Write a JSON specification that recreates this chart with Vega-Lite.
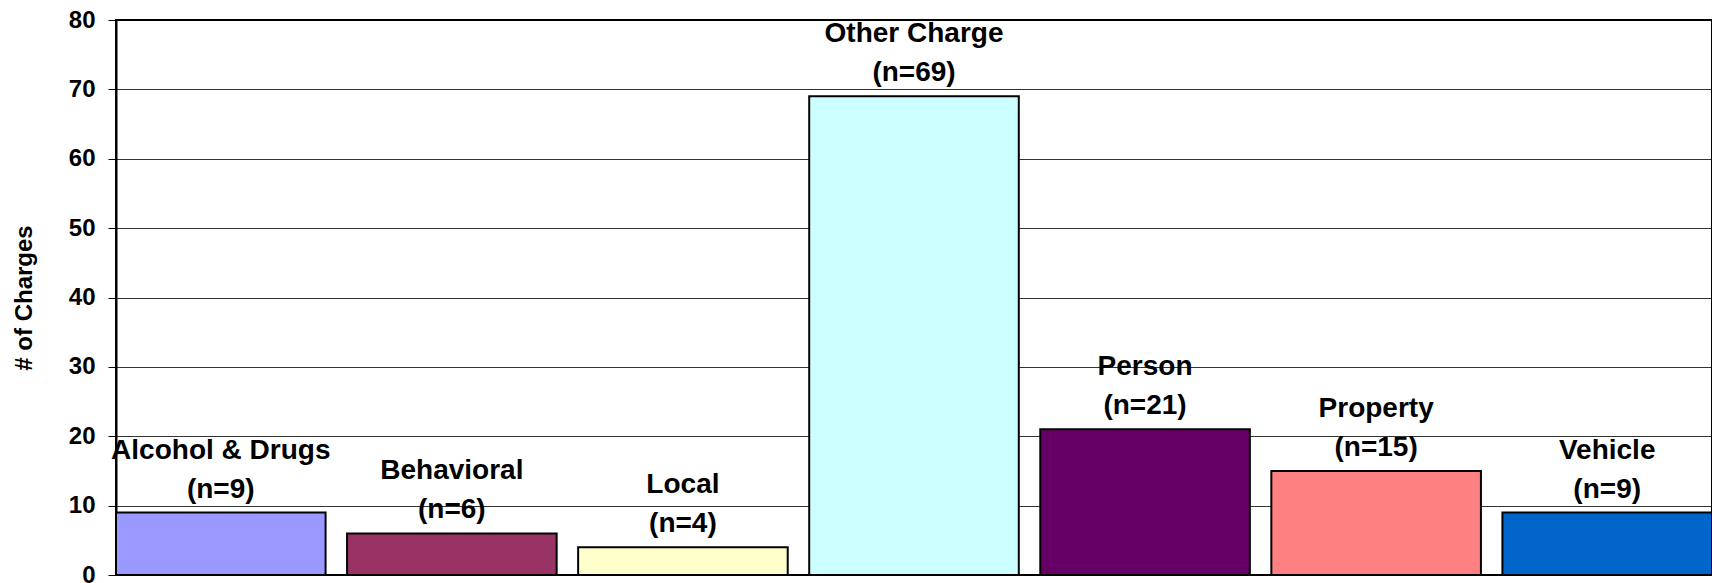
{
  "$schema": "https://vega.github.io/schema/vega-lite/v6.json",
  "autosize": {"type": "none"},
  "padding": {"left": 116, "top": 20, "right": 0, "bottom": 8},
  "width": 1596,
  "height": 555,
  "background": "white",
  "config": {
    "view": {"stroke": "black", "strokeWidth": 2},
    "font": "Liberation Sans"
  },
  "data": {
    "values": [
      {"category": "Alcohol & Drugs", "count": 9},
      {"category": "Behavioral", "count": 6},
      {"category": "Local", "count": 4},
      {"category": "Other Charge", "count": 69},
      {"category": "Person", "count": 21},
      {"category": "Property", "count": 15},
      {"category": "Vehicle", "count": 9}
    ]
  },
  "transform": [
    {"calculate": "'(n=' + datum.count + ')'", "as": "nlabel"}
  ],
  "encoding": {
    "x": {
      "field": "category",
      "type": "nominal",
      "sort": null,
      "scale": {"paddingInner": 0.093, "paddingOuter": 0},
      "axis": null
    },
    "y": {
      "field": "count",
      "type": "quantitative",
      "scale": {"domain": [0, 80], "nice": false},
      "axis": {
        "title": "# of Charges",
        "titleFont": "Liberation Sans",
        "titleFontSize": 24,
        "titleFontWeight": "bold",
        "titleColor": "black",
        "titleX": -92,
        "titleY": 277.5,
        "titleAngle": -90,
        "titleAlign": "center",
        "titleBaseline": "middle",
        "values": [0, 10, 20, 30, 40, 50, 60, 70, 80],
        "labelFont": "Liberation Sans",
        "labelFontSize": 24,
        "labelFontWeight": "bold",
        "labelColor": "black",
        "labelPadding": 13,
        "tickSize": 8,
        "tickColor": "black",
        "tickWidth": 1,
        "domainColor": "black",
        "domainWidth": 2,
        "grid": true,
        "gridColor": "black",
        "gridWidth": 1,
        "gridOpacity": 0.8
      }
    }
  },
  "layer": [
    {
      "mark": {"type": "bar", "stroke": "black", "strokeWidth": 2},
      "encoding": {
        "color": {
          "field": "category",
          "type": "nominal",
          "sort": null,
          "scale": {
            "domain": ["Alcohol & Drugs", "Behavioral", "Local", "Other Charge", "Person", "Property", "Vehicle"],
            "range": ["#9999FF", "#993366", "#FFFFCC", "#CCFFFF", "#660066", "#FF8080", "#0066CC"]
          },
          "legend": null
        }
      }
    },
    {
      "mark": {"type": "text", "font": "Liberation Sans", "fontSize": 28, "fontWeight": "bold", "color": "black", "baseline": "middle", "align": "center", "dy": -62},
      "encoding": {"text": {"field": "category"}}
    },
    {
      "mark": {"type": "text", "font": "Liberation Sans", "fontSize": 28, "fontWeight": "bold", "color": "black", "baseline": "middle", "align": "center", "dy": -23},
      "encoding": {"text": {"field": "nlabel"}}
    }
  ]
}
